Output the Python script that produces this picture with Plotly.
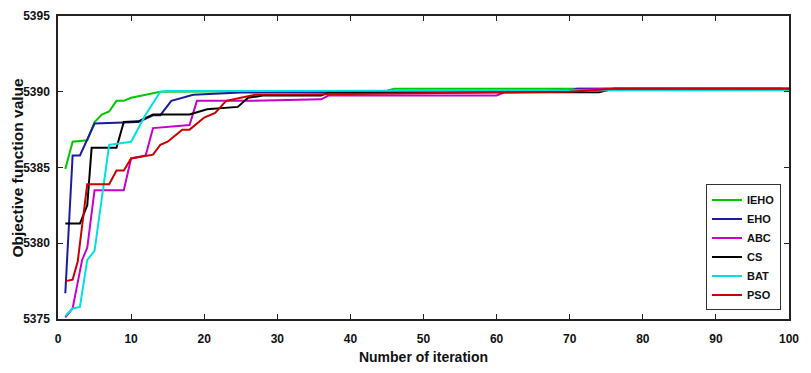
import plotly.graph_objects as go

# ---- data ----
ieho_x = [1, 2, 4, 5, 6, 7, 8, 9, 10, 12, 14, 30, 45, 46, 100]
ieho_y = [5384.9, 5386.7, 5386.8, 5388.0, 5388.5, 5388.7, 5389.4, 5389.4, 5389.6, 5389.8, 5390.0, 5390.05, 5390.07, 5390.2, 5390.2]

eho_x = [1, 2, 3, 5, 11, 13, 14, 15.5, 18.5, 25, 40, 70, 71, 99, 100]
eho_y = [5376.7, 5385.8, 5385.8, 5387.9, 5388.0, 5388.45, 5388.45, 5389.4, 5389.8, 5389.95, 5390.0, 5390.05, 5390.2, 5390.2, 5390.05]

abc_x = [1, 2, 3.3, 4, 5, 9, 10, 12, 13, 18, 19, 26, 36, 37, 60, 61, 75, 100]
abc_y = [5375.1, 5375.7, 5378.9, 5379.7, 5383.5, 5383.5, 5385.6, 5385.8, 5387.6, 5387.8, 5389.4, 5389.4, 5389.5, 5389.75, 5389.75, 5389.95, 5390.2, 5390.2]

cs_x = [1, 3, 4, 4.6, 8, 9, 11, 13, 18, 20.4, 24.6, 26, 28, 36, 37, 74, 76, 100]
cs_y = [5381.3, 5381.3, 5382.5, 5386.3, 5386.3, 5388.0, 5388.05, 5388.5, 5388.5, 5388.85, 5389.0, 5389.6, 5389.75, 5389.75, 5389.95, 5389.97, 5390.2, 5390.2]

bat_x = [1, 2, 3, 4, 5, 7, 10, 12, 14, 15, 100]
bat_y = [5375.2, 5375.7, 5375.8, 5378.9, 5379.5, 5386.5, 5386.7, 5388.5, 5390.0, 5390.05, 5390.1]

pso_x = [1, 2, 2.7, 4, 7, 8, 9, 10, 13, 14, 15, 17, 18, 20, 21.5, 23, 25, 27, 40, 55, 70, 76, 100]
pso_y = [5377.5, 5377.6, 5378.8, 5383.9, 5383.9, 5384.8, 5384.8, 5385.6, 5385.85, 5386.5, 5386.7, 5387.5, 5387.5, 5388.3, 5388.6, 5389.4, 5389.6, 5389.8, 5389.85, 5389.95, 5390.0, 5390.2, 5390.2]

series = [
    ("IEHO", ieho_x, ieho_y, "#00c800"),
    ("EHO", eho_x, eho_y, "#1c1c9c"),
    ("ABC", abc_x, abc_y, "#c800c8"),
    ("CS", cs_x, cs_y, "#000000"),
    ("BAT", bat_x, bat_y, "#00e0e0"),
    ("PSO", pso_x, pso_y, "#c80000"),
]

x_ticks = [0, 10, 20, 30, 40, 50, 60, 70, 80, 90, 100]
y_ticks = [5375, 5380, 5385, 5390, 5395]

FONT = "Liberation Sans, Arial, sans-serif"

fig = go.Figure()
for name, xs, ys, col in series:
    fig.add_trace(go.Scatter(x=xs, y=ys, mode="lines", name=name,
                             line=dict(color=col, width=2)))

axis_common = dict(
    showline=True, linecolor="#222222", linewidth=1.5, mirror="ticks",
    ticks="inside", ticklen=5, tickwidth=1, tickcolor="#222222",
    showgrid=False, zeroline=False, automargin=False,
    ticklabeloverflow="allow",
    tickfont=dict(family=FONT, size=12, color="#111111", weight="bold"),
)

# page body has an 8px margin; the figure is sized to fit inside the window
fig.update_layout(
    width=795, height=357,
    margin=dict(l=50, r=14, t=8, b=46),
    paper_bgcolor="white", plot_bgcolor="white",
    showlegend=True,
    legend=dict(
        x=0.989, y=0.444, xanchor="right", yanchor="top",
        bordercolor="#333333", borderwidth=1, bgcolor="white",
        font=dict(family=FONT, size=11, color="#111111", weight="bold"),
        itemwidth=30, tracegroupgap=0,
    ),
    xaxis=dict(range=[0, 100], tickvals=x_ticks, ticklabelstandoff=8,
               title=dict(text="Number of iteration", standoff=18,
                          font=dict(family=FONT, size=14, color="#111111", weight="bold")),
               **axis_common),
    yaxis=dict(range=[5375, 5395], tickvals=y_ticks, ticklabelstandoff=4,
               **axis_common),
    annotations=[dict(
        text="Objective function value", textangle=-90,
        xref="paper", yref="paper", x=0, y=0.5, xanchor="center", yanchor="middle",
        xshift=-41, showarrow=False,
        font=dict(family=FONT, size=15.5, color="#111111", weight="bold"),
    )],
)

fig.write_html("out.html")
